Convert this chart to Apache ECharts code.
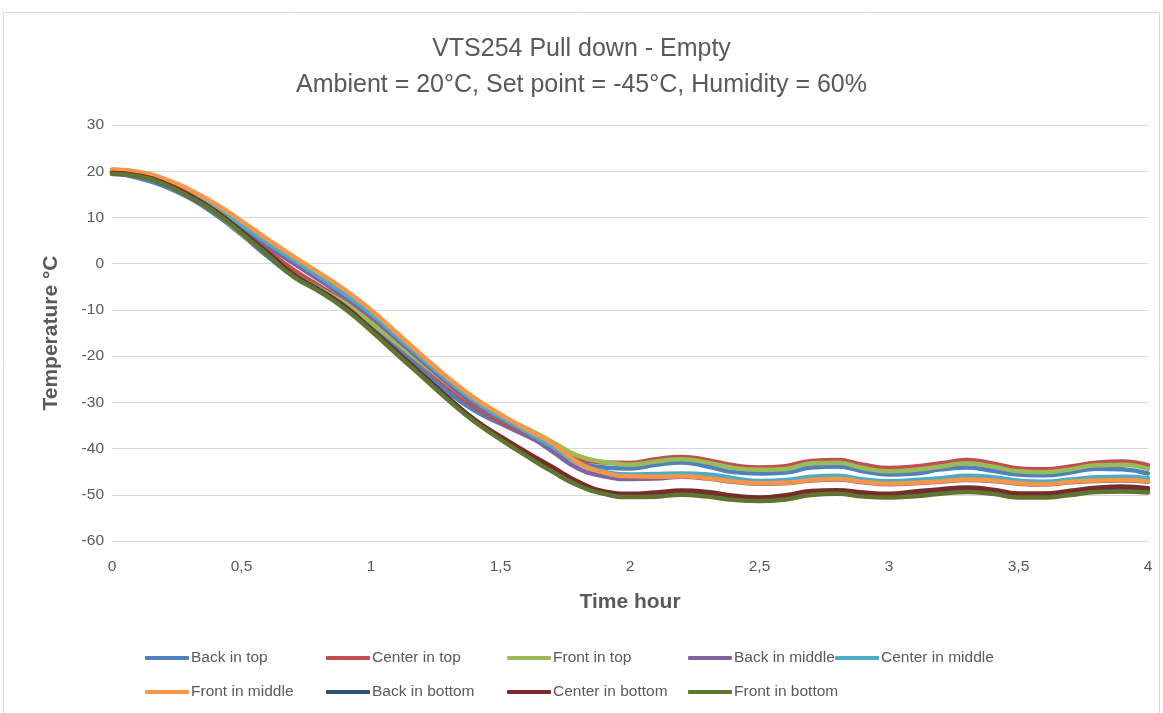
<!DOCTYPE html>
<html>
<head>
<meta charset="utf-8">
<script src="https://cdn.jsdelivr.net/npm/echarts@6/dist/echarts.min.js"></script>
<style>
html,body{margin:0;padding:0;background:#fff;}
#c{width:1163px;height:713px;}
</style>
</head>
<body>
<div id="c"></div>
<script>
// Time in hours
const hours = [0,0.1,0.2,0.3,0.4,0.5,0.6,0.7,0.8,0.9,1,1.1,1.2,1.3,1.4,1.5,1.6,1.7,1.8,1.9,2,2.1,2.2,2.3,2.4,2.5,2.6,2.7,2.8,2.9,3,3.1,3.2,3.3,3.4,3.5,3.6,3.7,3.8,3.9,4];

const backTop     = [19.6,18.6,16.8,14.2,10.6,6.3,1.6,-2.6,-6.0,-9.4,-13.6,-18.4,-23.2,-27.9,-31.8,-34.6,-37.2,-40.0,-42.8,-44.1,-44.3,-43.5,-43.0,-43.9,-45.1,-45.4,-45.2,-44.1,-43.9,-44.9,-45.6,-45.4,-44.5,-44.1,-44.8,-45.6,-45.8,-45.2,-44.35,-44.5,-45.4];
const centerTop   = [20.3,19.8,18.0,15.2,11.6,7.2,2.8,-1.3,-4.8,-8.4,-12.6,-17.3,-22.0,-26.8,-31.0,-34.3,-37.0,-40.0,-42.3,-43.0,-43.1,-42.3,-41.8,-42.5,-43.6,-44.1,-43.8,-42.7,-42.5,-43.5,-44.2,-43.9,-43.2,-42.5,-43.2,-44.3,-44.5,-43.9,-43.05,-42.8,-43.6];
const frontTop    = [20.0,19.6,17.8,14.8,11.0,6.5,2.0,-2.3,-5.4,-8.6,-12.8,-17.2,-21.7,-26.2,-30.3,-33.4,-35.6,-38.6,-41.6,-42.9,-43.5,-42.8,-42.3,-43.05,-44.2,-44.6,-44.4,-43.2,-43.05,-44.2,-44.9,-44.6,-43.9,-43.2,-43.9,-44.9,-45.1,-44.5,-43.6,-43.5,-44.4];
const backMiddle  = [19.9,19.5,17.8,15.1,11.8,7.8,3.8,0.1,-3.5,-7.3,-11.5,-16.3,-21.2,-26.0,-30.4,-33.6,-36.8,-40.6,-44.3,-46.0,-46.6,-46.5,-46.1,-46.5,-47.2,-47.6,-47.5,-46.9,-46.7,-47.3,-47.7,-47.5,-47.2,-46.8,-47.0,-47.6,-47.8,-47.3,-47.0,-46.9,-47.2];
const centerMiddle= [20.0,19.7,18.0,15.5,12.2,8.4,4.5,0.9,-2.8,-6.6,-10.8,-15.7,-20.6,-25.4,-29.7,-33.2,-36.3,-39.6,-43.2,-45.0,-45.6,-45.5,-45.4,-45.6,-46.4,-47.0,-46.8,-46.1,-45.9,-46.7,-47.1,-46.8,-46.4,-45.9,-46.2,-46.95,-47.2,-46.7,-46.2,-46.1,-46.4];
const frontMiddle = [20.3,19.9,18.4,16.0,12.9,9.2,5.3,1.6,-2.0,-5.7,-10.0,-15.0,-20.0,-24.8,-29.1,-32.6,-35.8,-38.9,-43.0,-45.2,-46.0,-46.1,-46.0,-46.4,-47.1,-47.5,-47.4,-46.8,-46.6,-47.2,-47.6,-47.4,-47.1,-46.7,-46.9,-47.5,-47.7,-47.2,-46.9,-46.8,-47.1];
const backBottom  = [19.5,19.0,17.4,14.7,11.3,7.0,2.4,-2.3,-5.6,-9.3,-14.1,-19.1,-24.1,-29.1,-33.8,-37.6,-41.2,-44.6,-47.6,-49.5,-50.2,-50.1,-49.7,-50.0,-50.7,-51.0,-50.7,-49.8,-49.5,-50.0,-50.3,-50.0,-49.5,-49.1,-49.5,-50.2,-50.3,-49.8,-49.2,-49.0,-49.2];
const centerBottom= [19.6,19.1,17.5,14.8,11.3,6.9,2.3,-2.4,-5.8,-9.4,-14.2,-19.2,-24.2,-29.2,-33.8,-37.4,-40.8,-44.0,-47.2,-49.3,-49.8,-49.5,-49.1,-49.4,-50.2,-50.6,-50.1,-49.2,-49.0,-49.5,-49.8,-49.3,-48.8,-48.4,-48.9,-49.7,-49.7,-49.1,-48.5,-48.2,-48.6];
const frontBottom = [19.4,18.9,17.2,14.4,11.0,6.6,1.9,-2.8,-6.0,-9.8,-14.5,-19.6,-24.6,-29.6,-34.2,-38.0,-41.6,-45.0,-48.0,-49.8,-50.5,-50.4,-50.0,-50.4,-51.1,-51.35,-51.0,-50.05,-49.8,-50.4,-50.6,-50.3,-49.8,-49.4,-49.8,-50.6,-50.6,-50.05,-49.4,-49.3,-49.5];

const seriesNames = ['Back in top','Center in top','Front in top','Back in middle','Center in middle','Front in middle','Back in bottom','Center in bottom','Front in bottom'];
const seriesData = [backTop,centerTop,frontTop,backMiddle,centerMiddle,frontMiddle,backBottom,centerBottom,frontBottom];
const colors = ['#4F81BD','#C0504D','#9BBB59','#8064A2','#4BACC6','#F79646','#2C4D75','#772C2A','#5F7530'];

const titleLines = ['VTS254 Pull down - Empty','Ambient = 20°C, Set point = -45°C, Humidity = 60%'];
const xName = 'Time hour';
const yName = 'Temperature °C';

// legend placement (left of icon, row center)
const legendPos = [[145,657],[326,657],[507,657],[688,657],[835,657],[145,691],[326,691],[507,691],[688,691]];

const FONT = 'Liberation Sans, Arial, sans-serif';
const TXT = '#595959';

const chart = echarts.init(document.getElementById('c'), null, {renderer:'canvas'});

const legends = seriesNames.map((n,i)=>({
  left: legendPos[i][0], top: legendPos[i][1]-7,
  data:[n], icon:'roundRect', itemWidth:44, itemHeight:4, itemGap:0,
  padding:0,
  textStyle:{color:TXT, fontSize:15.5, fontFamily:FONT, padding:[0,0,0,-3]},
  selectedMode:false
}));

chart.setOption({
  animation:false,
  backgroundColor:'#fff',
  color: colors,
  graphic:[{type:'rect', shape:{x:3.5,y:12.5,width:1156,height:720}, style:{fill:'none', stroke:'#D9D9D9', lineWidth:1}, z:-10}],
  title:{
    text: titleLines.join('\n'),
    left:'center', top:26,
    textStyle:{color:TXT, fontSize:25, fontWeight:'normal', fontFamily:FONT, lineHeight:36}
  },
  legend: legends,
  grid:{left:112, right:15, top:125, bottom:172, containLabel:false},
  xAxis:{
    type:'value', min:0, max:4, interval:0.5,
    name:xName, nameLocation:'middle', nameGap:51,
    nameTextStyle:{color:TXT, fontSize:21, fontWeight:'bold', fontFamily:FONT},
    axisLine:{show:true, lineStyle:{color:'#D9D9D9', width:1}},
    axisTick:{show:false},
    splitLine:{show:false},
    axisLabel:{color:TXT, fontSize:15.5, fontFamily:FONT, margin:18,
      formatter:v=>String(v).replace('.',',')}
  },
  yAxis:{
    type:'value', min:-60, max:30, interval:10,
    name:yName, nameLocation:'middle', nameGap:50, nameRotate:90,
    nameTextStyle:{color:TXT, fontSize:21, fontWeight:'bold', fontFamily:FONT},
    axisLine:{show:false}, axisTick:{show:false},
    splitLine:{show:true, lineStyle:{color:'#D9D9D9', width:1}},
    axisLabel:{color:TXT, fontSize:15.5, fontFamily:FONT, margin:8}
  },
  series: seriesNames.map((n,i)=>({
    name:n, type:'line', smooth:0.5, showSymbol:false, symbol:'none',
    lineStyle:{width:4.5, color:colors[i], cap:'round', join:'round'},
    itemStyle:{color:colors[i]},
    data: hours.map((h,k)=>[h, seriesData[i][k]])
  }))
});
</script>
</body>
</html>
